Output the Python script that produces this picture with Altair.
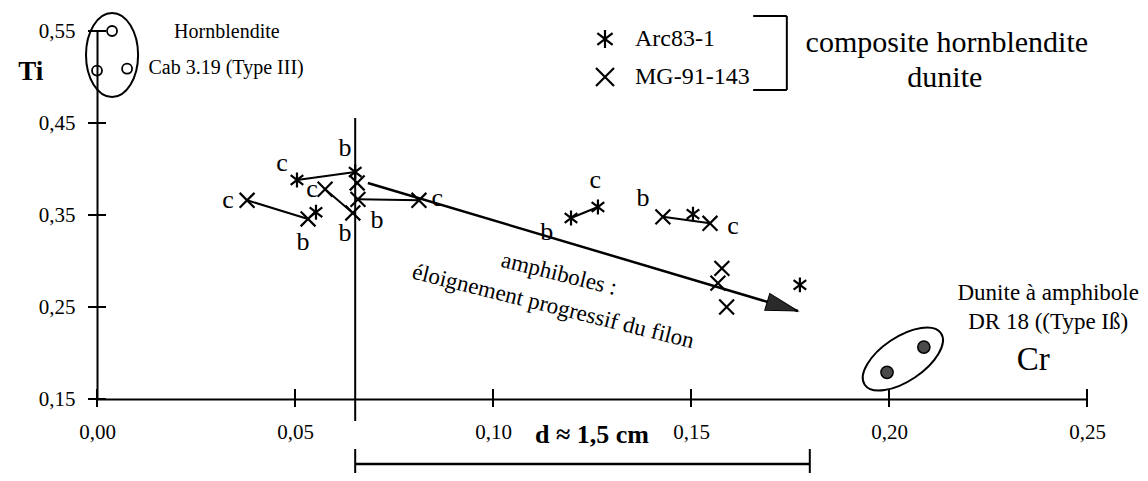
import altair as alt
import pandas as pd

FONT = "Liberation Serif"

# ---------------- data ----------------
series_names = ["Arc83-1", "MG-91-143"]
arc_x = [0.0505, 0.0652, 0.0553, 0.1197, 0.1265, 0.1505, 0.1775]
arc_y = [0.388, 0.3967, 0.353, 0.3467, 0.3587, 0.351, 0.274]
mg_x = [0.0379, 0.0533, 0.0576, 0.0646, 0.0657, 0.0659, 0.0813, 0.1429, 0.1548, 0.1578, 0.1568, 0.159]
mg_y = [0.366, 0.3457, 0.378, 0.3522, 0.3848, 0.367, 0.366, 0.348, 0.341, 0.292, 0.276, 0.250]

# b -> c links: (series, index) pairs
links = [(("mg", 0), ("mg", 1)), (("arc", 0), ("arc", 1)), (("mg", 2), ("mg", 3)),
         (("mg", 5), ("mg", 6)), (("arc", 3), ("arc", 4)), (("mg", 7), ("mg", 8))]

# Hornblendite Cab 3.19 (open circles) and Dunite DR 18 (filled circles)
horn_x = [0.0038, 0.0000, 0.0076]
horn_y = [0.550, 0.507, 0.509]
dun_x = [0.1995, 0.2088]
dun_y = [0.179, 0.2065]

# b / c labels
bc_text = ["c", "b", "c", "c", "b", "b", "b", "c", "c", "b", "b", "c"]
bc_x = [0.0331, 0.0520, 0.0467, 0.0543, 0.0626, 0.0707, 0.0626, 0.0859, 0.1258, 0.1136, 0.1379, 0.1606]
bc_y = [0.3663, 0.3207, 0.4065, 0.3783, 0.4228, 0.3446, 0.3304, 0.3685, 0.3880, 0.3315, 0.3685, 0.3380]

x_ticks = [0.00, 0.05, 0.10, 0.15, 0.20, 0.25]
y_ticks = [0.15, 0.25, 0.35, 0.45, 0.55]

# trend arrow (amphiboles: progressive distance from the vein)
arrow_x = [0.0684, 0.1770]
arrow_y = [0.3848, 0.2457]

# distance bar d ~ 1,5 cm
d_x = [0.0652, 0.1800]

# ---------------- helpers ----------------
lbl = "replace(format(datum.value, '.2f'), '.', ',')"
xs = alt.Scale(domain=[0, 0.25], nice=False, zero=False)
ys = alt.Scale(domain=[0.15, 0.55], nice=False, zero=False)
xaxis = alt.Axis(values=x_ticks, labelExpr=lbl, ticks=False, grid=False, title=None,
                 domainColor="black", domainWidth=2, labelFont=FONT, labelFontSize=21,
                 labelColor="black", labelPadding=22, labelFlush=False, labelOverlap=False)
yaxis = alt.Axis(values=y_ticks, labelExpr=lbl, ticks=False, grid=False, title=None,
                 domainColor="black", domainWidth=2, labelFont=FONT, labelFontSize=21,
                 labelColor="black", labelPadding=22, labelOverlap=False)


def X(f="x"):
    return alt.X(f, type="quantitative", scale=xs, axis=xaxis)


def Y(f="y"):
    return alt.Y(f, type="quantitative", scale=ys, axis=yaxis)


def ellipse_path(a, b):
    k = 0.5523
    return (f"M {a} 0 C {a} {k*b} {k*a} {b} 0 {b} C {-k*a} {b} {-a} {k*b} {-a} 0 "
            f"C {-a} {-k*b} {-k*a} {-b} 0 {-b} C {k*a} {-b} {a} {-k*b} {a} 0 Z")


ASTERISK = "M 0 -1 L 0 1 M -0.85 -0.65 L 0.85 0.65 M -0.85 0.65 L 0.85 -0.65"
CROSS = "M -1 -1 L 1 1 M -1 1 L 1 -1"
ARROWHEAD = "M 0 0 L -2 -0.55 L -2 0.55 Z"

# ---------------- tables ----------------
pts = pd.DataFrame({
    "x": arc_x + mg_x,
    "y": arc_y + mg_y,
    "series": [series_names[0]] * len(arc_x) + [series_names[1]] * len(mg_x),
})

src = {"arc": (arc_x, arc_y), "mg": (mg_x, mg_y)}
seg = pd.DataFrame([
    {"x": src[a[0]][0][a[1]], "y": src[a[0]][1][a[1]],
     "x2": src[b[0]][0][b[1]], "y2": src[b[0]][1][b[1]]}
    for a, b in links
])

# ---------------- layers ----------------
points = alt.Chart(pts).mark_point(filled=False, strokeWidth=2.2, color="black", size=220, opacity=1).encode(
    x=X(), y=Y(),
    shape=alt.Shape("series:N", scale=alt.Scale(domain=series_names, range=[ASTERISK, CROSS]),
                    legend=alt.Legend(orient="none", legendX=496, legendY=-4, title=None, padding=0,
                                      labelFont=FONT, labelFontSize=24, labelColor="black",
                                      symbolSize=324, symbolStrokeWidth=2.2, symbolStrokeColor="black",
                                      symbolFillColor="transparent", rowPadding=10, labelOffset=18)),
)

links_layer = alt.Chart(seg).mark_rule(color="black", strokeWidth=2).encode(
    x=X(), y=Y(), x2=alt.X2("x2"), y2=alt.Y2("y2"))

arrow_df = pd.DataFrame({"x": [arrow_x[0]], "y": [arrow_y[0]], "x2": [arrow_x[1]], "y2": [arrow_y[1]]})
arrow_line = alt.Chart(arrow_df).mark_rule(color="black", strokeWidth=2.5).encode(
    x=X(), y=Y(), x2=alt.X2("x2"), y2=alt.Y2("y2"))
arrow_head = alt.Chart(pd.DataFrame({"x": [arrow_x[1]], "y": [arrow_y[1]]})).mark_point(
    shape=ARROWHEAD, filled=True, color="#2a2a2a", size=1024, angle=16.5, opacity=1,
    stroke="black", strokeWidth=1).encode(x=X(), y=Y())

horn = alt.Chart(pd.DataFrame({"x": horn_x, "y": horn_y})).mark_point(
    shape="circle", filled=False, color="black", strokeWidth=1.8, size=100, opacity=1).encode(x=X(), y=Y())
dun = alt.Chart(pd.DataFrame({"x": dun_x, "y": dun_y})).mark_point(
    shape="circle", filled=True, fill="#4a4a4a", stroke="black", strokeWidth=1.5, size=150, opacity=1).encode(x=X(), y=Y())

horn_ell = alt.Chart(pd.DataFrame({"x": [0.0038], "y": [0.5239]})).mark_point(
    shape=ellipse_path(0.62, 1), filled=False, color="black", strokeWidth=2, size=7056, opacity=1).encode(x=X(), y=Y())
dun_ell = alt.Chart(pd.DataFrame({"x": [0.2035], "y": [0.1935]})).mark_point(
    shape=ellipse_path(1, 0.478), filled=False, color="black", strokeWidth=2, size=8464, angle=326, opacity=1).encode(x=X(), y=Y())

bc = alt.Chart(pd.DataFrame({"x": bc_x, "y": bc_y, "t": bc_text})).mark_text(
    font=FONT, fontSize=26, color="black", align="center", baseline="middle").encode(x=X(), y=Y(), text="t:N")


def text_layer(items, size, weight="normal", angle=0, align="center"):
    df = pd.DataFrame(items, columns=["x", "y", "t"])
    return alt.Chart(df).mark_text(font=FONT, fontSize=size, fontWeight=weight, color="black",
                                   align=align, baseline="middle", angle=angle).encode(x=X(), y=Y(), text="t:N")


t_horn = text_layer([(0.0328, 0.5489, "Hornblendite"), (0.0326, 0.5098, "Cab 3.19 (Type III)")], 20)
t_comp = text_layer([(0.2146, 0.537, "composite hornblendite"), (0.2141, 0.4989, "dunite")], 30)
t_dun = text_layer([(0.2402, 0.2652, "Dunite à amphibole"), (0.2402, 0.2337, "DR 18 ((Type Iß)")], 23)
t_ti = text_layer([(-0.0167, 0.5054, "Ti")], 27, weight="bold")
t_cr = text_layer([(0.2364, 0.1924, "Cr")], 33)
t_d = text_layer([(0.125, 0.1109, "d ≈ 1,5 cm")], 26, weight="bold")
t_amph = text_layer([(0.1167, 0.2859, "amphiboles :"), (0.1152, 0.2505, "éloignement progressif du filon")], 23, angle=14)

# vertical reference line at the vein
vline = alt.Chart(pd.DataFrame({"x": [d_x[0]]})).mark_rule(color="black", strokeWidth=2).encode(
    x=X(), y=alt.value(87), y2=alt.value(390))
# distance bar
dbar = alt.Chart(pd.DataFrame({"x": [d_x[0]], "x2": [d_x[1]]})).mark_rule(color="black", strokeWidth=2.5).encode(
    x=X(), x2=alt.X2("x2"), y=alt.value(433))
dcaps = alt.Chart(pd.DataFrame({"x": d_x})).mark_rule(color="black", strokeWidth=2).encode(
    x=X(), y=alt.value(418), y2=alt.value(442))

# crossing ticks
ytk = alt.Chart(pd.DataFrame({"y": y_ticks})).mark_rule(color="black", strokeWidth=2).encode(
    y=Y(), x=alt.value(-9), x2=alt.value(9))
xtk = alt.Chart(pd.DataFrame({"x": x_ticks})).mark_rule(color="black", strokeWidth=2).encode(
    x=X(), y=alt.value(358), y2=alt.value(376))

# legend bracket
br = pd.DataFrame({"x": [0.1657, 0.1742, 0.1657], "y": [0.5663, 0.5663, 0.4859],
                   "x2": [0.1742, 0.1742, 0.1742], "y2": [0.5663, 0.4859, 0.4859]})
bracket = alt.Chart(br).mark_rule(color="black", strokeWidth=2).encode(
    x=X(), y=Y(), x2=alt.X2("x2"), y2=alt.Y2("y2"))

chart = alt.layer(
    vline, links_layer, arrow_line, arrow_head, points, horn, dun, horn_ell, dun_ell,
    bc, t_horn, t_comp, t_dun, t_ti, t_cr, t_d, t_amph, dbar, dcaps, ytk, xtk, bracket,
).properties(
    width=990, height=368,
    padding={"left": 89, "top": 23, "right": 53, "bottom": 74},
    autosize=alt.AutoSizeParams(type="none"),
    background="white",
).configure_view(stroke=None)

chart.save("out.html", embed_options={"renderer": "svg", "actions": False})
